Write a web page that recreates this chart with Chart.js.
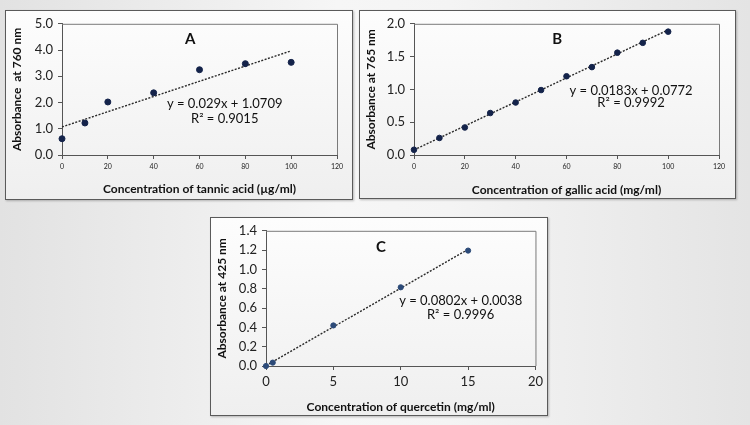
<!DOCTYPE html>
<html>
<head>
<meta charset="utf-8">
<script src="https://cdn.jsdelivr.net/npm/chart.js@4.4.0/dist/chart.umd.min.js"></script>
<style>
  html, body { margin: 0; padding: 0; }
  body {
    width: 750px; height: 425px; overflow: hidden; position: relative;
    background: linear-gradient(to right, #e2e2e2 0%, #f6f6f6 45%, #f4f4f4 60%, #e4e4e4 100%);
    font-family: Lato, sans-serif;
  }
  .panel {
    position: absolute; box-sizing: border-box;
    border: 1px solid #5a5a5a;
    background: linear-gradient(to bottom, #fdfdfd, #efefef);
    box-shadow: 1px 1px 2px rgba(0,0,0,0.25);
  }
  .panel canvas { display: block; }
</style>
</head>
<body>
<div class="panel" style="left:5px; top:10px; width:348px; height:190px;"><canvas id="chartA" width="346" height="188"></canvas></div>
<div class="panel" style="left:359px; top:10px; width:377px; height:189px;"><canvas id="chartB" width="375" height="187"></canvas></div>
<div class="panel" style="left:210px; top:217px; width:338px; height:199px;"><canvas id="chartC" width="336" height="197"></canvas></div>

<script>
// Panel A - tannic acid
const xA = [0, 10, 20, 40, 60, 80, 100];
const yA = [0.62, 1.22, 2.02, 2.37, 3.25, 3.48, 3.53];
const trendXA = [0, 100];
const trendYA = [1.07, 3.97];

// Panel B - gallic acid
const xB = [0, 10, 20, 30, 40, 50, 60, 70, 80, 90, 100];
const yB = [0.08, 0.26, 0.42, 0.64, 0.80, 0.99, 1.20, 1.34, 1.56, 1.71, 1.88];
const trendXB = [0, 100];
const trendYB = [0.077, 1.907];

// Panel C - quercetin
const xC = [0, 0.5, 5, 10, 15];
const yC = [0.0, 0.035, 0.42, 0.815, 1.195];
const trendXC = [0, 15];
const trendYC = [0.004, 1.207];

const FONT = 'Lato, "Open Sans", sans-serif';

function pairs(xs, ys) {
    return xs.map((x, i) => ({ x: x, y: ys[i] }));
}

// frame around the plot area plus the text labels (panel letter, equation)
const boxAndText = {
    id: 'boxAndText',
    afterDraw(chart, args, opts) {
        const { ctx, chartArea: a, scales } = chart;
        ctx.save();
        ctx.strokeStyle = '#7a7a7a';
        ctx.lineWidth = 1;
        ctx.beginPath();
        ctx.moveTo(a.left, a.top + 0.5);
        ctx.lineTo(a.right + 0.5, a.top + 0.5);
        ctx.lineTo(a.right + 0.5, a.bottom);
        ctx.stroke();
        ctx.fillStyle = '#111';
        ctx.textAlign = 'center';
        ctx.textBaseline = 'middle';
        (opts.labels || []).forEach(l => {
            ctx.font = l.font;
            ctx.fillText(l.text, scales.x.getPixelForValue(l.x), scales.y.getPixelForValue(l.y));
        });
        ctx.restore();
    }
};

function makeChart(id, s) {
    const ctx = document.getElementById(id);
    return new Chart(ctx, {
        type: 'scatter',
        data: {
            datasets: [
                {
                    data: pairs(s.x, s.y),
                    backgroundColor: s.pointColor,
                    borderColor: s.pointColor,
                    pointRadius: s.pointRadius,
                    clip: false
                },
                {
                    data: pairs(s.tx, s.ty),
                    showLine: true,
                    borderColor: '#2a2a2a',
                    borderWidth: 1.4,
                    borderDash: [2, 1.5],
                    pointRadius: 0,
                    clip: false
                }
            ]
        },
        options: {
            responsive: false,
            animation: false,
            layout: { padding: { top: s.padTop, right: s.padRight, left: 0, bottom: 0 } },
            plugins: {
                legend: { display: false },
                tooltip: { enabled: false },
                boxAndText: { labels: s.labels }
            },
            scales: {
                x: {
                    type: 'linear',
                    min: 0, max: s.xMax,
                    afterFit: sc => { sc.height = s.xHeight; },
                    border: { color: '#555', width: 1 },
                    grid: { display: true, drawOnChartArea: false, color: '#555', tickLength: 4 },
                    ticks: { stepSize: s.xStep, color: '#222', font: { family: FONT, size: s.xTickSize }, padding: s.xTickPad, maxRotation: 0 },
                    title: { display: true, text: s.xTitle, color: '#111', font: { family: FONT, size: 12, weight: 'bold' }, padding: { top: 0, bottom: s.xTitlePad } }
                },
                y: {
                    type: 'linear',
                    min: 0, max: s.yMax,
                    afterFit: sc => { sc.width = s.yWidth; },
                    border: { color: '#555', width: 1 },
                    grid: { display: true, drawOnChartArea: false, color: '#555', tickLength: 4 },
                    ticks: { stepSize: s.yStep, color: '#222', font: { family: FONT, size: 13 }, padding: 5, callback: v => v.toFixed(1) },
                    title: { display: true, text: s.yTitle, color: '#111', font: { family: FONT, size: 12, weight: 'bold' }, padding: { top: 4, bottom: 0 } }
                }
            }
        },
        plugins: [boxAndText]
    });
}

makeChart('chartA', {
    x: xA, y: yA, tx: trendXA, ty: trendYA, pointColor: '#14234a', pointRadius: 3,
    xMax: 120, xStep: 20, yMax: 5, yStep: 1,
    xTitle: 'Concentration of tannic acid (\u00b5g/ml)', yTitle: 'Absorbance  at 760 nm',
    padTop: 11, padRight: 15, yWidth: 56, xHeight: 44, xTickSize: 7, xTickPad: 4, xTitlePad: 3,
    labels: [
        { text: 'A', x: 56, y: 4.4, font: 'bold 15px ' + FONT },
        { text: 'y = 0.029x + 1.0709', x: 71, y: 1.95, font: '13px ' + FONT },
        { text: 'R\u00b2 = 0.9015', x: 71, y: 1.39, font: '13px ' + FONT }
    ]
});

makeChart('chartB', {
    x: xB, y: yB, tx: trendXB, ty: trendYB, pointColor: '#14234a', pointRadius: 2.8,
    xMax: 120, xStep: 20, yMax: 2, yStep: 0.5,
    xTitle: 'Concentration of gallic acid (mg/ml)', yTitle: 'Absorbance at 765 nm',
    padTop: 12, padRight: 16, yWidth: 54, xHeight: 43, xTickSize: 7, xTickPad: 4, xTitlePad: 1,
    labels: [
        { text: 'B', x: 56.3, y: 1.77, font: 'bold 15px ' + FONT },
        { text: 'y = 0.0183x + 0.0772', x: 85.4, y: 0.985, font: '13px ' + FONT },
        { text: 'R\u00b2 = 0.9992', x: 85.4, y: 0.79, font: '13px ' + FONT }
    ]
});

makeChart('chartC', {
    x: xC, y: yC, tx: trendXC, ty: trendYC, pointColor: '#2c4a78', pointRadius: 2.6,
    xMax: 20, xStep: 5, yMax: 1.4, yStep: 0.2,
    xTitle: 'Concentration of quercetin (mg/ml)', yTitle: 'Absorbance at 425 nm',
    padTop: 10, padRight: 7, yWidth: 55, xHeight: 49, xTickSize: 13, xTickPad: 4, xTitlePad: 1,
    labels: [
        { text: 'C', x: 8.54, y: 1.228, font: 'bold 15px ' + FONT },
        { text: 'y = 0.0802x + 0.0038', x: 14.45, y: 0.68, font: '13px ' + FONT },
        { text: 'R\u00b2 = 0.9996', x: 14.45, y: 0.53, font: '13px ' + FONT }
    ]
});
</script>
</body>
</html>
